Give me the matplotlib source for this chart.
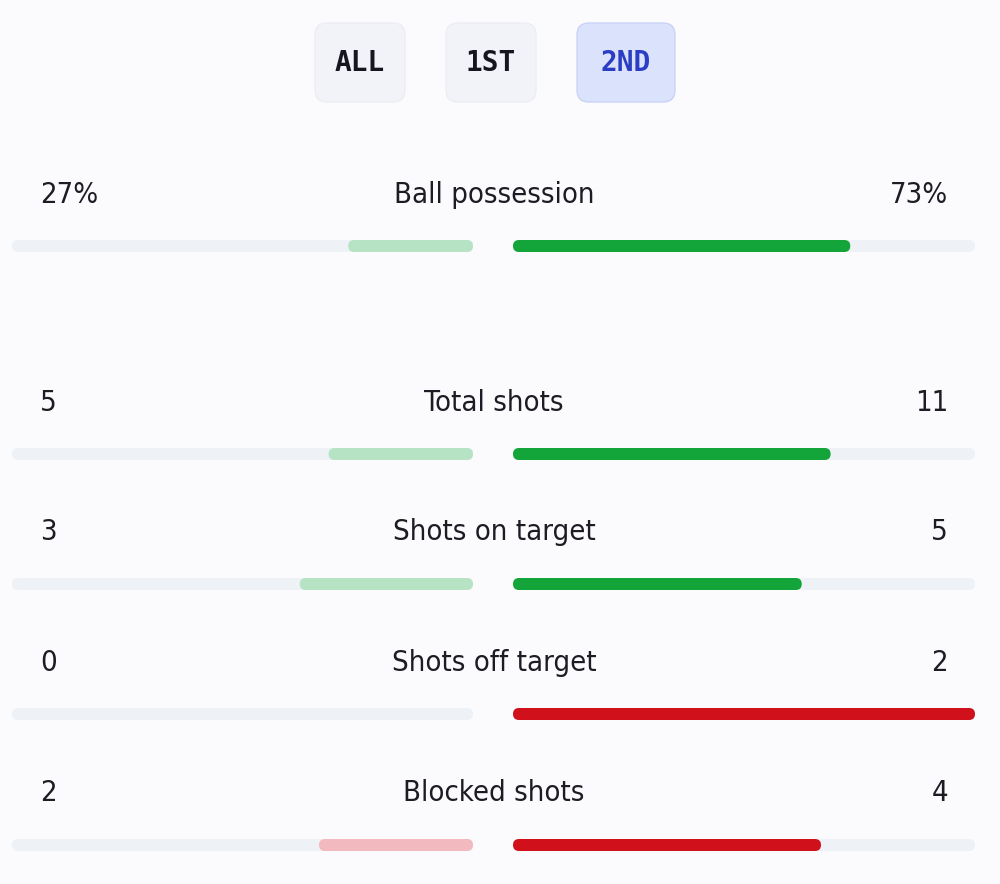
import matplotlib.pyplot as plt
from matplotlib.patches import FancyBboxPatch

# match stats (2nd half)
stats = ['Ball possession', 'Total shots', 'Shots on target', 'Shots off target', 'Blocked shots']
home = [27, 5, 3, 0, 2]
away = [73, 11, 5, 2, 4]
home_lbl = ['27%', '5', '3', '0', '2']
away_lbl = ['73%', '11', '5', '2', '4']
kind = ['green', 'green', 'green', 'red', 'red']
tabs = ['ALL', '1ST', '2ND']

colors = {'green': ('#b7e3c5', '#14a53a'), 'red': ('#f2b9be', '#d0101a')}
track = '#eef1f6'
bg = '#fbfbfd'

plt.rcParams['font.family'] = ['DejaVu Sans']
plt.rcParams['font.stretch'] = 'condensed'

fig = plt.figure(figsize=(10, 8.84), dpi=100, facecolor=bg)
ax = fig.add_axes([0, 0, 1, 1])
ax.set_xlim(0, 1000)
ax.set_ylim(884, 0)
ax.axis('off')
ax.set_facecolor(bg)

def bar(x0, x1, y, c, h=12):
    if x1 - x0 <= 0:
        return
    ax.add_patch(FancyBboxPatch((x0, y - h / 2), x1 - x0, h,
                                boxstyle='round,pad=0,rounding_size=%g' % (h / 2),
                                fc=c, ec='none'))

# tab buttons
tab_x = [315, 446, 577]
tab_w = [90, 90, 98]
for i, t in enumerate(tabs):
    sel = (i == 2)
    ax.add_patch(FancyBboxPatch((tab_x[i], 23), tab_w[i], 79,
                                boxstyle='round,pad=0,rounding_size=12',
                                fc='#dbe3fc' if sel else '#f2f3f8',
                                ec='#c9d3f6' if sel else '#eceef4', lw=1))
    ax.text(tab_x[i] + tab_w[i] / 2, 63, t, ha='center', va='center',
            fontsize=20, family='DejaVu Sans Mono', weight='bold',
            color='#2b3dc4' if sel else '#161620')

text_y = [195, 403, 532, 663, 793]
bar_y = [246, 454, 584, 714, 845]
L_end, R_start, span = 473, 513, 462

for i, s in enumerate(stats):
    tot = home[i] + away[i]
    light, dark = colors[kind[i]]
    ax.text(40, text_y[i], home_lbl[i], ha='left', va='center', fontsize=21, color='#1c1c24')
    ax.text(948, text_y[i], away_lbl[i], ha='right', va='center', fontsize=21, color='#1c1c24')
    ax.text(494, text_y[i], s, ha='center', va='center', fontsize=21, color='#1c1c24')
    bar(12, L_end, bar_y[i], track)
    bar(R_start, R_start + span, bar_y[i], track)
    bar(L_end - span * home[i] / tot, L_end, bar_y[i], light)
    bar(R_start, R_start + span * away[i] / tot, bar_y[i], dark)

fig.savefig('out.png', dpi=100, facecolor=bg)
